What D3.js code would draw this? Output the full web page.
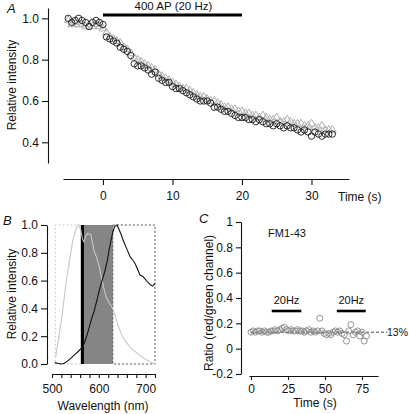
<!DOCTYPE html>
<html><head><meta charset="utf-8">
<script src="https://cdn.jsdelivr.net/npm/d3@7"></script>
<style>body{margin:0;background:#fff}text{font-family:"Liberation Sans",Arial,sans-serif;fill:#111}</style>
</head><body><svg id="c" width="409" height="414"></svg>
<script>
// ---------- Panel A data ----------
const timeA = d3.range(-5, 33.01, 0.5);
const circlesA = [1.00,0.98,0.99,1.00,0.99,0.98,0.96,0.98,0.99,0.98,0.97,0.91,0.90,0.89,0.88,0.86,0.85,0.84,0.82,0.78,0.77,0.77,0.76,0.75,0.73,0.74,0.71,0.70,0.69,0.69,0.67,0.66,0.66,0.65,0.64,0.63,0.62,0.61,0.60,0.60,0.60,0.59,0.57,0.57,0.56,0.55,0.55,0.54,0.53,0.52,0.52,0.52,0.51,0.51,0.50,0.51,0.50,0.49,0.49,0.48,0.49,0.48,0.47,0.48,0.47,0.47,0.46,0.45,0.46,0.45,0.43,0.45,0.44,0.43,0.44,0.44,0.44];
const trianglesA = [0.99,0.97,0.98,0.97,0.97,0.96,0.97,0.96,0.97,0.96,0.95,0.93,0.91,0.90,0.89,0.88,0.86,0.85,0.83,0.81,0.80,0.79,0.78,0.77,0.76,0.75,0.73,0.72,0.71,0.70,0.69,0.68,0.67,0.66,0.66,0.65,0.64,0.63,0.62,0.62,0.61,0.60,0.60,0.59,0.58,0.57,0.57,0.56,0.56,0.55,0.55,0.54,0.54,0.53,0.53,0.52,0.53,0.52,0.51,0.51,0.52,0.50,0.50,0.51,0.50,0.49,0.49,0.49,0.48,0.48,0.49,0.47,0.47,0.48,0.46,0.46,0.46];
const ticksAx = [0,10,20,30];
const ticksAy = [0.4,0.6,0.8,1.0];
const stimA = [0,20];

// ---------- Panel B data ----------
const greenCurve = [[508,0.05],[510,0.10],[520,0.31],[531,0.61],[545,0.90],[552,0.98],[556,1.0],[561,0.97],[565,0.90],[568,0.88],[572,0.92],[576,0.94],[583,0.93],[590,0.81],[595,0.77],[601,0.70],[606,0.62],[611,0.54],[616,0.48],[622,0.44],[628,0.41],[633,0.37],[638,0.31],[643,0.26],[650,0.20],[660,0.15],[670,0.11],[681,0.08],[692,0.05],[702,0.03],[712,0.01],[720,0.0]];
const redCurve = [[506,0.01],[512,0.005],[520,0.0],[526,0.005],[531,0.015],[540,0.04],[548,0.065],[556,0.09],[562,0.11],[566,0.13],[570,0.16],[575,0.21],[580,0.27],[585,0.33],[590,0.38],[596,0.46],[601,0.53],[605,0.58],[608,0.61],[613,0.67],[618,0.74],[622,0.82],[626,0.89],[630,0.95],[634,0.99],[639,1.0],[643,0.97],[648,0.93],[652,0.89],[657,0.85],[662,0.81],[667,0.77],[672,0.75],[678,0.72],[683,0.68],[688,0.64],[694,0.63],[699,0.61],[704,0.59],[710,0.57],[715,0.56],[720,0.58]];
const bandLeft = [507,561];
const bandGray = [561,630];
const bandRight = [630,720];
const laserLine = 565;
const ticksBy = [0,0.2,0.4,0.6,0.8,1.0];
const ticksBxMajor = [500,600,700];
const ticksBxMinor = d3.range(500, 721, 20);

// ---------- Panel C data ----------
const timeC = d3.range(0, 78.1, 1.5);
const ratioC = [0.13,0.14,0.13,0.14,0.14,0.13,0.14,0.13,0.13,0.14,0.14,0.15,0.14,0.15,0.16,0.17,0.15,0.14,0.15,0.14,0.14,0.15,0.14,0.14,0.13,0.14,0.15,0.13,0.14,0.13,0.14,0.24,0.14,0.12,0.11,0.12,0.11,0.13,0.14,0.13,0.14,0.12,0.11,0.06,0.14,0.19,0.11,0.13,0.14,0.10,0.13,0.06,0.10];
const stimC = [[14,34],[58,77.5]];
const meanC = 0.13;
const ticksCx = [0,25,50,75];
const ticksCy = [-0.2,0,0.2,0.4,0.6,0.8,1];

const svg = d3.select("#c");
svg.append("rect").attr("width",409).attr("height",414).attr("fill","#fff");

function styleAxis(g){
  g.selectAll("path,line").attr("stroke","#111").attr("stroke-width",1.1);
  g.selectAll("text").attr("font-size",12).attr("font-family","Liberation Sans, Arial, sans-serif").attr("fill","#111");
}

// ================= Panel A =================
const xA = d3.scaleLinear().domain([-5.75,35.4]).range([63,349]);
const yA = d3.scaleLinear().domain([0.3,1.05]).range([163,8]);
svg.append("g").attr("transform","translate(48,0)")
  .call(d3.axisLeft(yA).tickValues(ticksAy).tickFormat(d3.format(".1f")).tickSize(6).tickPadding(3).tickSizeOuter(0))
  .call(styleAxis);
svg.append("g").attr("transform","translate(0,179)")
  .call(d3.axisBottom(xA).tickValues(ticksAx).tickSize(6).tickPadding(6).tickSizeOuter(0))
  .call(styleAxis);

const tri = d3.symbol().type(d3.symbolTriangle).size(26);
svg.append("g").selectAll("path").data(trianglesA).join("path")
  .attr("d",tri).attr("transform",(d,i)=>`translate(${xA(timeA[i])},${yA(d)})`)
  .attr("fill","none").attr("stroke","#b0b0b0").attr("stroke-width",1);
svg.append("g").selectAll("circle").data(circlesA).join("circle")
  .attr("cx",(d,i)=>xA(timeA[i])).attr("cy",d=>yA(d)).attr("r",3.2)
  .attr("fill","none").attr("stroke","#1a1a1a").attr("stroke-width",0.9);

svg.append("line").attr("x1",xA(stimA[0])).attr("x2",xA(stimA[1])).attr("y1",15).attr("y2",15)
  .attr("stroke","#000").attr("stroke-width",2.8);
svg.append("text").attr("x",(xA(stimA[0])+xA(stimA[1]))/2+1).attr("y",10).attr("text-anchor","middle").attr("font-size",11.5).text("400 AP (20 Hz)");
svg.append("text").attr("x",7).attr("y",13).attr("font-size",13).attr("font-style","italic").text("A");
svg.append("text").attr("transform","translate(16,85) rotate(-90)").attr("text-anchor","middle").attr("font-size",12).text("Relative intensity");
svg.append("text").attr("x",338).attr("y",201).attr("font-size",12).text("Time (s)");

// ================= Panel B =================
const xB = d3.scaleLinear().domain([500,720]).range([52,155]);
const yB = d3.scaleLinear().domain([0,1]).range([364,225]);
svg.append("rect").attr("x",xB(bandGray[0])).attr("y",yB(1)).attr("width",xB(bandGray[1])-xB(bandGray[0])).attr("height",yB(0)-yB(1)).attr("fill","#858585");
const lb = svg.append("g").attr("stroke","#c4c4c4").attr("stroke-width",1).attr("stroke-dasharray","2,2").attr("fill","none");
lb.append("path").attr("d",`M${xB(bandLeft[1])},${yB(1)}H${xB(bandLeft[0])}V${yB(0)}H${xB(bandLeft[1])}`);
const rb = svg.append("g").attr("stroke","#555").attr("stroke-width",1).attr("stroke-dasharray","2,2").attr("fill","none");
rb.append("rect").attr("x",xB(bandRight[0])).attr("y",yB(1)).attr("width",xB(bandRight[1])-xB(bandRight[0])).attr("height",yB(0)-yB(1));
svg.append("line").attr("x1",xB(bandGray[0])).attr("x2",xB(bandGray[0])).attr("y1",yB(0)).attr("y2",yB(1)).attr("stroke","#ddd").attr("stroke-width",1);
svg.append("line").attr("x1",xB(laserLine)).attr("x2",xB(laserLine)).attr("y1",yB(0)).attr("y2",yB(1)).attr("stroke","#000").attr("stroke-width",3);
const lineB = d3.line().x(d=>xB(d[0])).y(d=>yB(d[1]));
svg.append("path").attr("d",lineB(greenCurve)).attr("fill","none").attr("stroke","#c8c8c8").attr("stroke-width",1.1);
svg.append("path").attr("d",lineB(redCurve)).attr("fill","none").attr("stroke","#111").attr("stroke-width",1.1);

svg.append("g").attr("transform","translate(47,0)")
  .call(d3.axisLeft(yB).tickValues(ticksBy).tickFormat(d3.format(".1f")).tickSize(6).tickPadding(3).tickSizeOuter(0))
  .call(styleAxis);
svg.append("g").attr("transform","translate(0,374)")
  .call(d3.axisBottom(xB).tickValues(ticksBxMinor).tickFormat(d=>ticksBxMajor.includes(d)?d:"").tickSize(4).tickPadding(6).tickSizeOuter(0))
  .call(styleAxis);
svg.append("text").attr("x",3).attr("y",225).attr("font-size",13).attr("font-style","italic").text("B");
svg.append("text").attr("transform","translate(16,294) rotate(-90)").attr("text-anchor","middle").attr("font-size",12).text("Relative intensity");
svg.append("text").attr("x",103).attr("y",410).attr("text-anchor","middle").attr("font-size",12).text("Wavelength (nm)");

// ================= Panel C =================
const xC = d3.scaleLinear().domain([-1.35,85.8]).range([249,378]);
const yC = d3.scaleLinear().domain([-0.2,1]).range([374,222]);
svg.append("g").attr("transform","translate(241,0)")
  .call(d3.axisLeft(yC).tickValues(ticksCy).tickFormat(d=>d===0?"0":d===1?"1":(d<0?"-":"")+Math.abs(d).toFixed(1)).tickSize(5).tickPadding(3).tickSizeOuter(0))
  .call(styleAxis);
svg.append("g").attr("transform","translate(0,376)")
  .call(d3.axisBottom(xC).tickValues(ticksCx).tickSize(4).tickPadding(4).tickSizeOuter(0))
  .call(styleAxis);
svg.append("line").attr("x1",xC(0)).attr("x2",xC(92)).attr("y1",yC(meanC)).attr("y2",yC(meanC))
  .attr("stroke","#444").attr("stroke-width",1).attr("stroke-dasharray","3,2");
svg.append("g").selectAll("circle").data(ratioC).join("circle")
  .attr("cx",(d,i)=>xC(timeC[i])).attr("cy",d=>yC(d)).attr("r",3)
  .attr("fill","none").attr("stroke","#8a8a8a").attr("stroke-width",0.9);
stimC.forEach(s=>{
  svg.append("line").attr("x1",xC(s[0])).attr("x2",xC(s[1])).attr("y1",311).attr("y2",311).attr("stroke","#000").attr("stroke-width",2.6);
  svg.append("text").attr("x",(xC(s[0])+xC(s[1]))/2).attr("y",304).attr("text-anchor","middle").attr("font-size",11).text("20Hz");
});
svg.append("text").attr("x",268).attr("y",237).attr("font-size",11).text("FM1-43");
svg.append("text").attr("x",387).attr("y",336).attr("font-size",10.5).text("13%");
svg.append("text").attr("x",199).attr("y",223).attr("font-size",13).attr("font-style","italic").text("C");
svg.append("text").attr("transform","translate(213,303) rotate(-90)").attr("text-anchor","middle").attr("font-size",12).text("Ratio (red/green channel)");
svg.append("text").attr("x",315).attr("y",407).attr("text-anchor","middle").attr("font-size",12).text("Time (s)");
</script></body></html>
